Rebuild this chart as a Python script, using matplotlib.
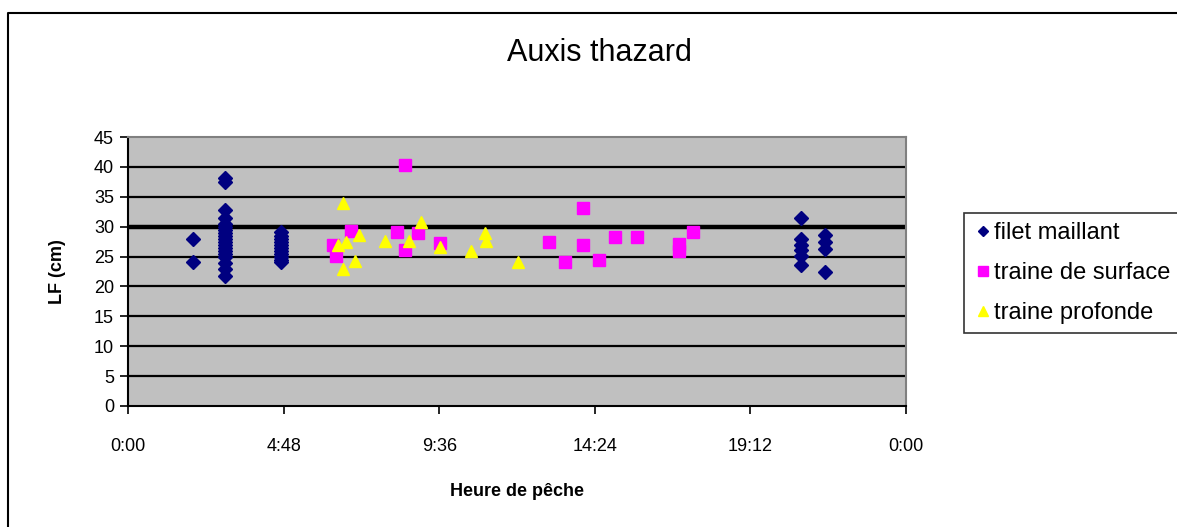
import matplotlib
matplotlib.use("Agg")
import matplotlib.pyplot as plt
from matplotlib.lines import Line2D

plt.rcParams['font.family'] = ['Liberation Sans', 'DejaVu Sans']

# ---- data (heure, LF cm) ----
filet_heure = ["2:00", "2:00",
               "3:00", "3:00", "3:00", "3:00", "3:00", "3:00", "3:00", "3:00", "3:00", "3:00",
               "3:00", "3:00", "3:00", "3:00", "3:00", "3:00", "3:00", "3:00", "3:00",
               "4:43", "4:43", "4:43", "4:43", "4:43", "4:43", "4:43", "4:43", "4:43", "4:43", "4:43",
               "20:45", "20:45", "20:45", "20:45", "20:45", "20:45",
               "21:30", "21:30", "21:30", "21:30"]
filet_lf = [28.0, 24.1,
            38.2, 37.5, 32.8, 31.5, 30.5, 30.0, 29.5, 29.0, 28.5, 28.0,
            27.5, 27.0, 26.5, 26.0, 25.5, 25.0, 24.0, 23.0, 21.7,
            29.1, 28.5, 28.0, 27.5, 27.0, 26.5, 26.0, 25.5, 25.0, 24.5, 24.1,
            31.5, 28.0, 26.9, 26.1, 25.1, 23.6,
            28.6, 27.5, 26.2, 22.5]

surface_heure = ["6:52", "6:25", "6:20", "8:17", "8:33", "8:56", "8:33", "9:38", "14:02",
                 "12:59", "14:02", "13:29", "14:32", "15:02", "15:43", "17:26", "17:00", "17:00"]
surface_lf = [29.3, 25.1, 26.9, 29.1, 26.1, 29.0, 40.3, 27.3, 33.2,
              27.4, 27.0, 24.1, 24.4, 28.3, 28.3, 29.1, 27.1, 25.9]

profonde_heure = ["6:38", "7:08", "6:44", "6:29", "7:00", "6:38", "7:55", "8:41", "9:02",
                  "9:38", "10:35", "11:00", "11:03", "12:01"]
profonde_lf = [33.9, 28.6, 27.5, 26.9, 24.3, 23.0, 27.6, 27.6, 30.8,
               26.6, 25.9, 29.0, 27.6, 24.1]

x_ticks = [0, 4.8, 9.6, 14.4, 19.2, 24]
x_labels = ["0:00", "4:48", "9:36", "14:24", "19:12", "0:00"]


def to_h(s):
    h, m = s.split(":")
    return int(h) + int(m) / 60


W, H = 1177, 527
fig = plt.figure(figsize=(W / 100, H / 100), dpi=100)
ax = fig.add_axes([128 / W, 1 - 406 / H, (906 - 128) / W, (406 - 137) / H])
ax.set_facecolor('#C0C0C0')

for v in range(5, 45, 5):
    ax.axhline(v, color='black', lw=1.6 if v != 30 else 3.2, zorder=1)

ax.plot([to_h(s) for s in filet_heure], filet_lf, ls='none', marker='D', ms=6.8,
        color='#000080', label='filet maillant', zorder=3)
ax.plot([to_h(s) for s in surface_heure], surface_lf, ls='none', marker='s', ms=9,
        color='#FF00FF', label='traine de surface', zorder=3)
ax.plot([to_h(s) for s in profonde_heure], profonde_lf, ls='none', marker='^', ms=9,
        color='#FFFF00', label='traine profonde', zorder=4)

ax.set_xlim(0, 24)
ax.set_ylim(0, 45)
ax.set_yticks(range(0, 50, 5))
ax.set_xticks(x_ticks)
ax.set_xticklabels(x_labels)
ax.tick_params(axis='both', direction='out', length=6, width=1.2, labelsize=13, colors='black')
ax.tick_params(axis='x', pad=17)
ax.tick_params(axis='y', pad=4)
for sp in ['left', 'bottom']:
    ax.spines[sp].set_color('black')
    ax.spines[sp].set_linewidth(1.5)
for sp in ['top', 'right']:
    ax.spines[sp].set_color('#808080')
    ax.spines[sp].set_linewidth(1.5)

ax.set_ylabel('LF (cm)', fontsize=13, fontweight='bold', labelpad=20)
ax.set_xlabel('Heure de pêche', fontsize=13, fontweight='bold', labelpad=20)
fig.text(599 / W, 1 - 53 / H, 'Auxis thazard', fontsize=22, ha='center', va='center')

leg = fig.legend(loc='upper left', bbox_to_anchor=(964 / W, 1 - 213 / H), fontsize=17,
                 frameon=True, fancybox=False, edgecolor='black', handletextpad=0.05,
                 handlelength=0.8, labelspacing=0.75, borderpad=0.4, borderaxespad=0,
                 markerscale=0.75)
leg.get_frame().set_linewidth(1.2)

# chart area border (cut off at the right)
fig.add_artist(Line2D([8 / W, 8 / W, 1.0], [0, 1 - 13 / H, 1 - 13 / H],
                      transform=fig.transFigure, color='black', lw=1.5))

fig.savefig('out.png', dpi=100, facecolor='white')
